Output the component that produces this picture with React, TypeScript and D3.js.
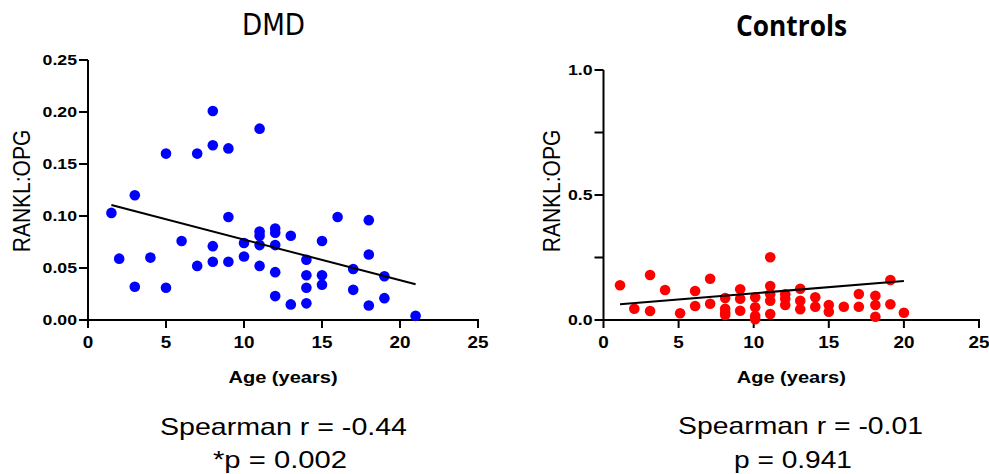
import React from "react";
import * as d3 from "d3";

const dmdAge = [1.5,2,3,3,4,5,5,6,7,7,8,8,8,8,9,9,9,10,10,11,11,11,11,11,12,12,12,12,12,13,13,14,14,14,14,15,15,15,16,17,17,18,18,18,19,19,21];
const dmdVal = [0.103,0.059,0.120,0.032,0.060,0.160,0.031,0.076,0.160,0.052,0.201,0.168,0.071,0.056,0.165,0.099,0.056,0.074,0.061,0.184,0.085,0.081,0.072,0.052,0.088,0.084,0.072,0.046,0.023,0.081,0.015,0.058,0.043,0.031,0.016,0.076,0.043,0.034,0.099,0.049,0.029,0.096,0.063,0.014,0.042,0.021,0.004];
const dmdFitX = [1.5, 21];
const dmdFitY = [0.1106, 0.0343];

const ctrlAge = [1.1,2.05,3.1,3.1,4.1,5.1,6.1,6.1,7.1,7.1,8.1,8.1,8.1,8.1,9.1,9.1,9.1,10.1,10.1,10.1,10.1,11.1,11.1,11.1,11.1,11.1,12.1,12.1,12.1,13.1,13.1,13.1,14.1,14.1,15,15,16,17,17,18.1,18.1,18.1,19.1,19.1,20];
const ctrlVal = [0.139,0.045,0.180,0.036,0.120,0.027,0.116,0.056,0.165,0.065,0.088,0.045,0.029,0.020,0.123,0.085,0.037,0.091,0.051,0.016,0.003,0.251,0.136,0.103,0.077,0.024,0.103,0.085,0.060,0.125,0.077,0.043,0.091,0.053,0.060,0.033,0.053,0.104,0.053,0.097,0.060,0.013,0.160,0.063,0.029];
const ctrlFitX = [1.1, 20];
const ctrlFitY = [0.063, 0.156];

const xTicks = [0, 5, 10, 15, 20, 25];
const dmdYTicks = [0, 0.05, 0.1, 0.15, 0.2, 0.25];
const dmdYLabels = ["0.00", "0.05", "0.10", "0.15", "0.20", "0.25"];
const ctrlYTicks = [0, 0.25, 0.5, 0.75, 1.0];
const ctrlYLabels = ["0.0", "", "0.5", "", "1.0"];

const ST = 1.18;
const FONT = "'Liberation Sans', Arial, Helvetica, sans-serif";

function SText({ x, y, anchor = "middle", size, weight = "normal", rotate = false, dy = "0", children }: any) {
  return (
    <g transform={`translate(${x},${y}) scale(${ST},1)${rotate ? " rotate(-90)" : ""}`}>
      <text textAnchor={anchor} fontSize={size} fontWeight={weight} fontFamily={FONT} dy={dy} fill="#000">
        {children}
      </text>
    </g>
  );
}

function Panel({ xr, yr, yDomain, ages, vals, fitX, fitY, yTicks, yLabels, color, ylabX }: any) {
  const x = d3.scaleLinear().domain([0, 25]).range(xr);
  const y = d3.scaleLinear().domain(yDomain).range(yr);
  const line = d3.line<number>().x((d) => x(fitX[d])).y((d) => y(fitY[d]));
  const x0 = xr[0];
  const y0 = yr[0];
  return (
    <g>
      <line x1={x0} x2={x0} y1={y(yDomain[1])} y2={y0 + 1} stroke="#000" strokeWidth={2} />
      {yTicks.map((t: number, i: number) => (
        <g key={"yt" + i}>
          <line x1={x0 - 9} x2={x0} y1={y(t)} y2={y(t)} stroke="#000" strokeWidth={2} />
          {yLabels[i] && (
            <SText x={x0 - 11} y={y(t)} anchor="end" size={15} weight="bold" dy="0.36em">
              {yLabels[i]}
            </SText>
          )}
        </g>
      ))}
      <line x1={x0 - 1} x2={x(25) + 1} y1={y0} y2={y0} stroke="#000" strokeWidth={2} />
      {xTicks.map((t) => (
        <g key={"xt" + t}>
          <line x1={x(t)} x2={x(t)} y1={y0} y2={y0 + 8} stroke="#000" strokeWidth={2} />
          <SText x={x(t)} y={y0 + 28} size={16} weight="bold">
            {String(t)}
          </SText>
        </g>
      ))}
      <SText x={(xr[0] + xr[1]) / 2} y={y0 + 63} size={17} weight="bold">
        Age (years)
      </SText>
      <SText x={ylabX} y={191} size={21} rotate dy="0.35em">
        RANKL:OPG
      </SText>
      {ages.map((a: number, i: number) => (
        <circle key={"p" + i} cx={x(a)} cy={y(vals[i])} r={5.3} fill={color} />
      ))}
      <path d={line([0, 1]) || ""} stroke="#000" strokeWidth={2} fill="none" />
    </g>
  );
}

export default function App() {
  return (
    <div style={{ position: "absolute", left: 0, top: 0 }}>
      <svg width={989} height={474} style={{ display: "block", background: "#fff" }}>
        <rect width={989} height={474} fill="#fff" />
        <text x={273.5} y={35} textAnchor="middle" fontSize={30} fontFamily="'DejaVu Sans', sans-serif" textLength={63} lengthAdjust="spacingAndGlyphs">
          DMD
        </text>
        <text x={791.5} y={36} textAnchor="middle" fontSize={28} fontWeight="bold" fontFamily="'Open Sans', 'DejaVu Sans', sans-serif" textLength={111} lengthAdjust="spacingAndGlyphs">
          Controls
        </text>
        <Panel
          xr={[88, 478]}
          yr={[320, 60]}
          yDomain={[0, 0.25]}
          ages={dmdAge}
          vals={dmdVal}
          fitX={dmdFitX}
          fitY={dmdFitY}
          yTicks={dmdYTicks}
          yLabels={dmdYLabels}
          color="#0000ff"
          ylabX={21}
        />
        <Panel
          xr={[603.5, 979]}
          yr={[320, 70]}
          yDomain={[0, 1]}
          ages={ctrlAge}
          vals={ctrlVal}
          fitX={ctrlFitX}
          fitY={ctrlFitY}
          yTicks={ctrlYTicks}
          yLabels={ctrlYLabels}
          color="#ff0000"
          ylabX={551}
        />
        <text x={283.5} y={435} textAnchor="middle" fontSize={24} fontFamily={FONT} textLength={247} lengthAdjust="spacingAndGlyphs">
          Spearman r = -0.44
        </text>
        <text x={280} y={468} textAnchor="middle" fontSize={24} fontFamily={FONT} textLength={134} lengthAdjust="spacingAndGlyphs">
          *p = 0.002
        </text>
        <text x={800.5} y={434} textAnchor="middle" fontSize={24} fontFamily={FONT} textLength={245} lengthAdjust="spacingAndGlyphs">
          Spearman r = -0.01
        </text>
        <text x={793} y={468} textAnchor="middle" fontSize={24} fontFamily={FONT} textLength={118} lengthAdjust="spacingAndGlyphs">
          p = 0.941
        </text>
      </svg>
    </div>
  );
}
